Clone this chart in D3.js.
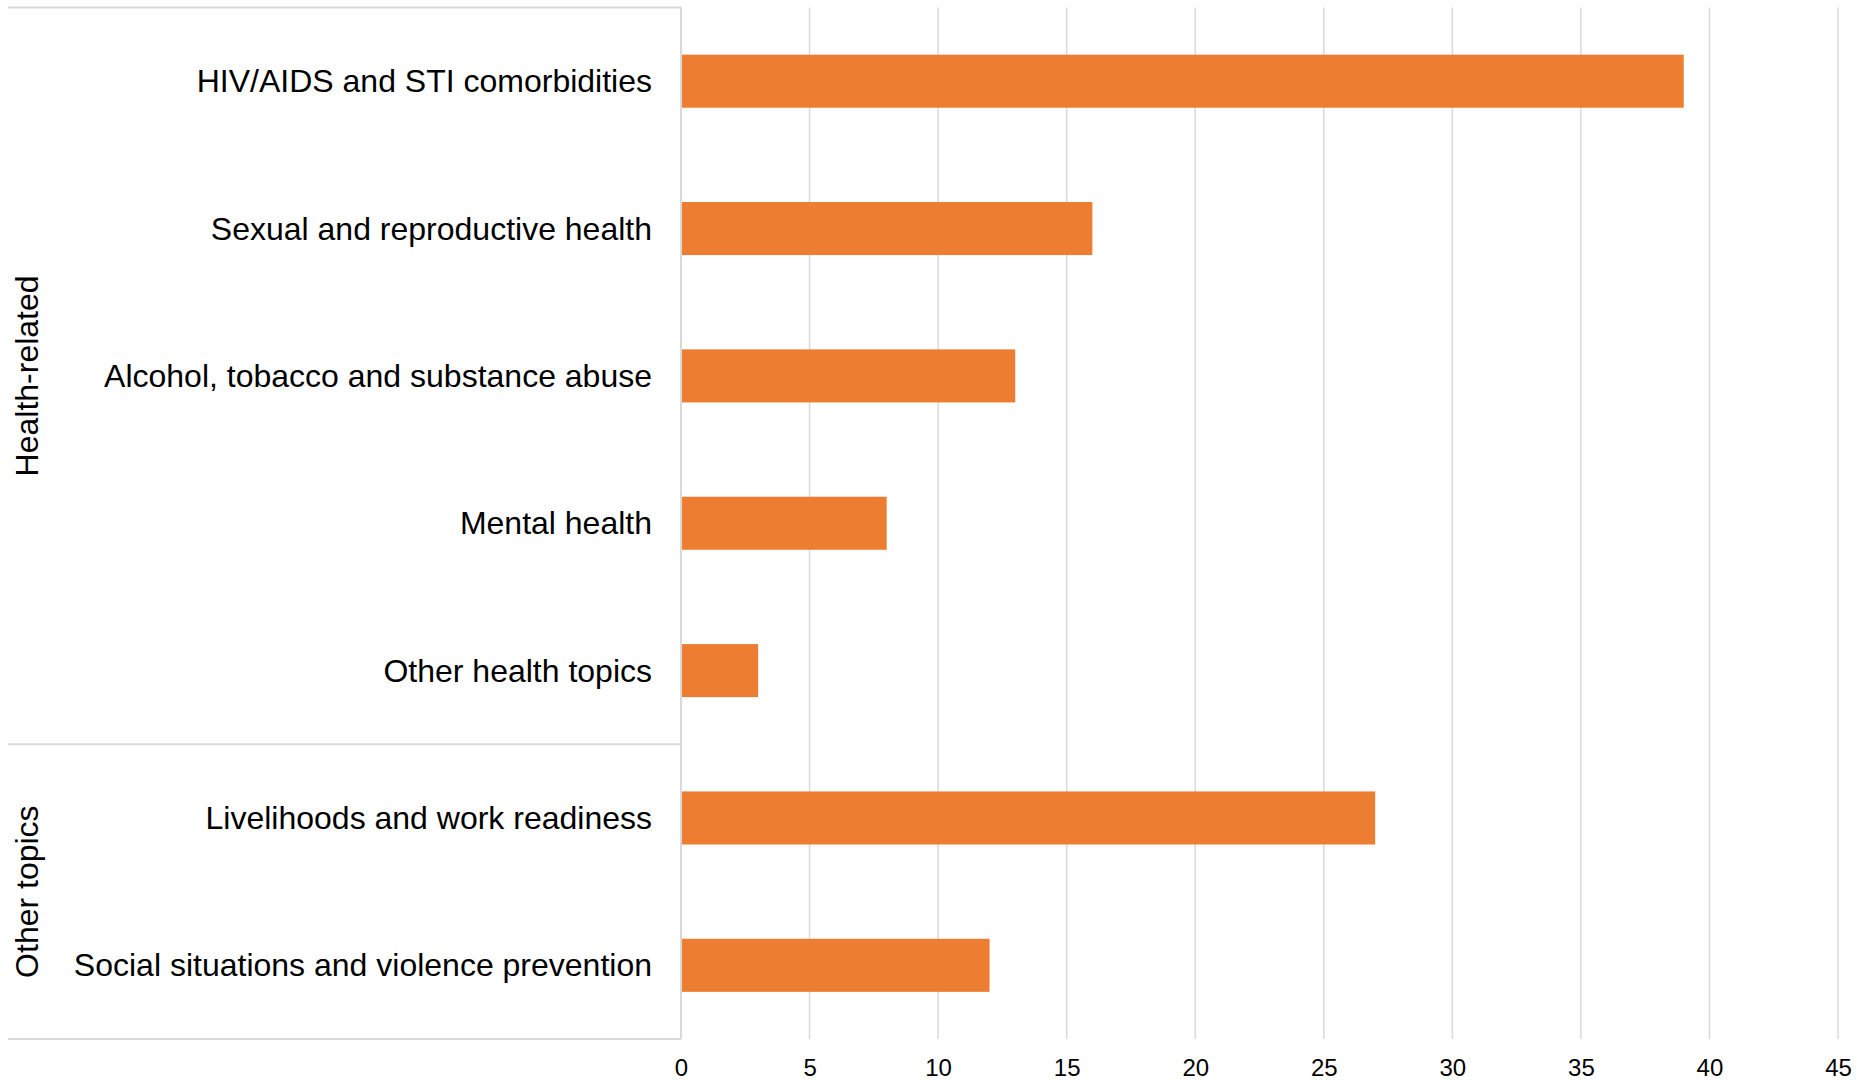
<!DOCTYPE html>
<html>
<head>
<meta charset="utf-8">
<script src="https://cdn.jsdelivr.net/npm/d3@7"></script>
<style>
  html, body { margin: 0; padding: 0; background: #fff; }
  svg { display: block; font-family: "Liberation Sans", Arial, sans-serif; }
</style>
</head>
<body>
<svg id="chart" width="1858" height="1080"></svg>
<script>
// Topics covered, grouped
const categories = [
  "HIV/AIDS and STI comorbidities",
  "Sexual and reproductive health",
  "Alcohol, tobacco and substance abuse",
  "Mental health",
  "Other health topics",
  "Livelihoods and work readiness",
  "Social situations and violence prevention"
];
const values = [39, 16, 13, 8, 3, 27, 12];
const groups = ["Health-related", "Other topics"];
const groupSizes = [5, 2];
const xTicks = [0, 5, 10, 15, 20, 25, 30, 35, 40, 45];

(function () {
  const svg = d3.select("#chart");
  const plotLeft = 681, plotRight = 1838, plotTop = 7.5, plotBottom = 1039;
  const outerLeft = 8;
  const gridColor = "#d9d9d9";

  const x = d3.scaleLinear().domain([0, 45]).range([plotLeft, plotRight]);
  const y = d3.scaleBand().domain(categories).range([plotTop, plotBottom])
    .paddingInner(0.64).paddingOuter(0.32);

  // vertical gridlines
  svg.append("g")
    .selectAll("line")
    .data(xTicks.filter(d => d > 0))
    .join("line")
    .attr("x1", d => x(d)).attr("x2", d => x(d))
    .attr("y1", plotTop).attr("y2", plotBottom)
    .attr("stroke", gridColor).attr("stroke-width", 1.5);

  // bars
  svg.append("g")
    .selectAll("rect")
    .data(categories)
    .join("rect")
    .attr("x", x(0))
    .attr("y", d => y(d))
    .attr("width", (d, i) => x(values[i]) - x(0))
    .attr("height", y.bandwidth())
    .attr("fill", "#ED7D31");

  // category axis frame: top, group separators, bottom, vertical axis line
  const step = y.step();
  const frame = svg.append("g").attr("stroke", gridColor).attr("stroke-width", 2).attr("fill", "none");
  let acc = 0;
  const bounds = [0];
  groupSizes.forEach(n => { acc += n; bounds.push(acc); });
  bounds.forEach(b => {
    const yy = plotTop + b * step;
    frame.append("line").attr("x1", outerLeft).attr("x2", plotLeft).attr("y1", yy).attr("y2", yy);
  });
  frame.append("line").attr("x1", plotLeft).attr("x2", plotLeft).attr("y1", plotTop).attr("y2", plotBottom);

  // category labels
  svg.append("g")
    .selectAll("text")
    .data(categories)
    .join("text")
    .attr("x", 652)
    .attr("y", d => y(d) + y.bandwidth() / 2)
    .attr("text-anchor", "end")
    .attr("dominant-baseline", "central")
    .attr("font-size", 32)
    .attr("fill", "#000")
    .text(d => d);

  // group labels, rotated
  groups.forEach((g, i) => {
    const cy = plotTop + (bounds[i] + bounds[i + 1]) / 2 * step;
    svg.append("text")
      .attr("transform", `translate(27,${cy}) rotate(-90)`)
      .attr("text-anchor", "middle")
      .attr("dominant-baseline", "central")
      .attr("font-size", 32)
      .attr("fill", "#000")
      .text(g);
  });

  // value axis
  const xAxis = d3.axisBottom(x).tickValues(xTicks).tickSize(0).tickPadding(0);
  const ax = svg.append("g").attr("transform", `translate(0,${plotBottom})`).call(xAxis);
  ax.select(".domain").remove();
  ax.selectAll("text")
    .attr("y", 29)
    .attr("dy", "0.35em")
    .attr("font-size", 24)
    .attr("font-family", "Liberation Sans, Arial, sans-serif")
    .attr("fill", "#000");
})();
</script>
</body>
</html>
